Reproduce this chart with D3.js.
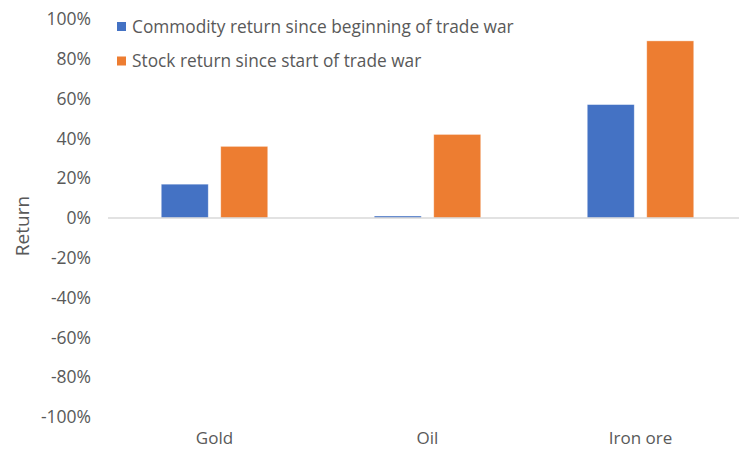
<!DOCTYPE html>
<html>
<head>
<meta charset="utf-8">
<script src="https://cdn.jsdelivr.net/npm/d3@7"></script>
<style>
  html, body { margin: 0; padding: 0; background: #fff; }
  svg { display: block; font-family: "Open Sans", "Noto Sans", sans-serif; }
</style>
</head>
<body>
<svg id="chart" width="739" height="456"></svg>
<script>
// Commodities and the two return series (fractions)
const categories = ["Gold", "Oil", "Iron ore"];
const seriesNames = ["Commodity return since beginning of trade war", "Stock return since start of trade war"];
const commodityReturn = [0.17, 0.01, 0.57];
const stockReturn = [0.36, 0.42, 0.89];
const yTicks = [-1, -0.8, -0.6, -0.4, -0.2, 0, 0.2, 0.4, 0.6, 0.8, 1];
const colors = ["#4472C4", "#ED7D31"];

const seriesValues = [commodityReturn, stockReturn];
const rows = categories.map((c, i) => ({
  category: c,
  values: seriesNames.map((s, j) => ({ series: s, value: seriesValues[j][i] }))
}));

const svg = d3.select("#chart");
const textColor = "#595959";
const pct = d => `${Math.round(d * 100)}%`;

const y = d3.scaleLinear().domain([-1, 1]).range([417, 19]);
const x0 = d3.scaleBand().domain(categories).range([108, 747]).paddingInner(0.5).paddingOuter(0.25);
const x1 = d3.scaleBand().domain(seriesNames).range([0, x0.bandwidth()]).paddingInner(0.21);

// Y axis: labels only, no line or ticks
const yAxis = svg.append("g")
  .attr("transform", "translate(92,0)")
  .call(d3.axisLeft(y).tickValues(yTicks).tickSize(0).tickPadding(1).tickFormat(pct));
yAxis.select(".domain").remove();
yAxis.selectAll("text")
  .attr("fill", textColor)
  .style("font-size", "17.5px")
  .style("font-family", "'Open Sans', sans-serif");

// Bars
const groups = svg.append("g").selectAll("g")
  .data(rows)
  .join("g")
  .attr("transform", d => `translate(${x0(d.category)},0)`);

groups.selectAll("rect")
  .data(d => d.values)
  .join("rect")
  .attr("x", d => x1(d.series))
  .attr("width", x1.bandwidth())
  .attr("y", d => y(Math.max(0, d.value)))
  .attr("height", d => Math.abs(y(d.value) - y(0)))
  .attr("fill", (d, i) => colors[i])
  .attr("stroke", "#ffffff")
  .attr("stroke-opacity", 0.5)
  .attr("stroke-width", 0.75);

// Zero baseline
svg.append("line")
  .attr("x1", 108).attr("x2", 739)
  .attr("y1", y(0)).attr("y2", y(0))
  .attr("stroke", "#d9d9d9")
  .attr("stroke-width", 1.5);

// Category labels along the bottom
const xAxis = svg.append("g")
  .attr("transform", "translate(0,432)")
  .call(d3.axisBottom(x0).tickSize(0).tickPadding(0));
xAxis.select(".domain").remove();
xAxis.selectAll("text")
  .attr("fill", textColor)
  .attr("dy", "0.71em")
  .style("font-size", "17px")
  .style("font-family", "'Open Sans', sans-serif");

// Y axis title
svg.append("text")
  .attr("transform", "translate(29,226) rotate(-90)")
  .attr("text-anchor", "middle")
  .attr("fill", textColor)
  .style("font-size", "19px")
  .text("Return");

// Legend
const legend = svg.append("g").attr("transform", "translate(117,22)");
const item = legend.selectAll("g")
  .data(seriesNames)
  .join("g")
  .attr("transform", (d, i) => `translate(0,${i * 34.5})`);
item.append("rect")
  .attr("width", 9).attr("height", 9)
  .attr("fill", (d, i) => colors[i]);
item.append("text")
  .attr("x", 15)
  .attr("y", 4.5)
  .attr("dy", "0.35em")
  .attr("fill", textColor)
  .style("font-size", "17.3px")
  .text(d => d);
</script>
</body>
</html>
